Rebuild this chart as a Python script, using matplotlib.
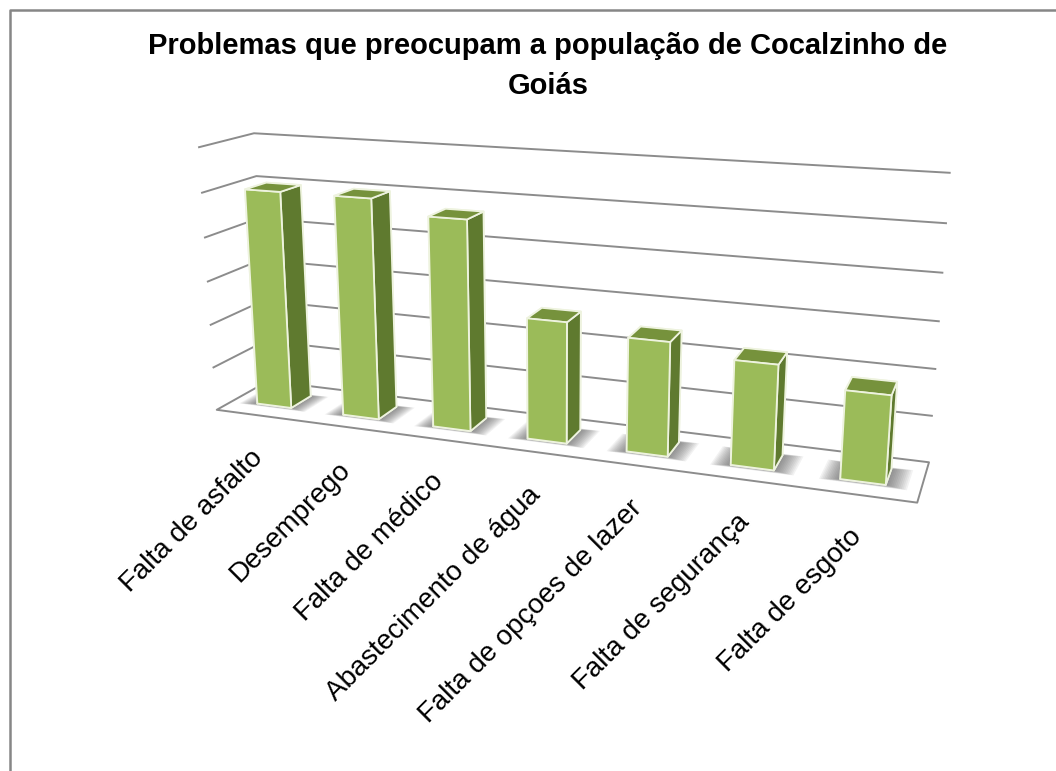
#!/usr/bin/env python3
import matplotlib
matplotlib.use('Agg')
import matplotlib.pyplot as plt
from matplotlib.lines import Line2D
from matplotlib.transforms import offset_copy
from mpl_toolkits.mplot3d import proj3d
from mpl_toolkits.mplot3d.art3d import Poly3DCollection

plt.rcParams['font.family'] = ['Liberation Sans', 'DejaVu Sans']

titulo = 'Problemas que preocupam a população de Cocalzinho de\nGoiás'
categorias = ['Falta de asfalto', 'Desemprego', 'Falta de médico', 'Abastecimento de água',
              'Falta de opçoes de lazer', 'Falta de segurança', 'Falta de esgoto']
valores = [25, 25, 23.5, 13.4, 12.4, 11.2, 9.3]
grade = [0, 5, 10, 15, 20, 25, 30]

W, H = 1056, 771
fig = plt.figure(figsize=(W / 100, H / 100), dpi=100, facecolor='white')

# borda do grafico: so esquerda e topo aparecem no recorte
fig.add_artist(Line2D([10 / W, 10 / W, 1], [0, 1 - 10 / H, 1 - 10 / H], color='#868686', lw=1.8))
fig.text(548 / W, 1 - 66 / H, titulo, ha='center', va='center', fontsize=21, fontweight='bold', linespacing=1.5)

# camera ajustada a mao para bater com a perspectiva do original
S = 900
ax = fig.add_axes([92 / W, 8.5 / H, S / W, S / H], projection='3d', proj_type='persp', focal_length=0.29)
ax.computed_zorder = False
ax.view_init(elev=15, azim=-70)
ax.set_box_aspect((7, 1, 2.7), zoom=0.86)
ax.set_xlim(-0.5, 6.5)
ax.set_ylim(0, 1)
ax.set_zlim(0, 30)
ax.set_axis_off()
ax.patch.set_alpha(0)

x0, x1 = -0.5, 6.5
piso = [[(x0, 0, 0), (x1, 0, 0), (x1, 1, 0), (x0, 1, 0)]]
ax.add_collection3d(Poly3DCollection(piso, facecolor='white', edgecolor='#8c8c8c', linewidth=1.4, zorder=0))

for g in grade[1:]:
    ax.plot([x0, x0, x1], [0, 1, 1], [g, g, g], color='#8c8c8c', lw=1.4, zorder=1)

# sombra no piso, varias camadas para parecer difusa
for i in range(len(valores)):
    for k in range(12):
        m = 0.2 * k / 11
        a, b = i - 0.22 - m * 0.8, i + 0.22 + m * 0.85
        c, d = 0.29 - m * 0.25, 0.7 + m * 0.2
        sombra = [[(a, c, 0), (b, c, 0), (b, d, 0), (a, d, 0)]]
        ax.add_collection3d(Poly3DCollection(sombra, facecolor=(0.3, 0.3, 0.3, 0.07), edgecolor='none', zorder=1.5))

# barras, uma cor por face: -z, +z, -y, +y, -x, +x
for i, v in enumerate(valores):
    cores = ['#9bbb59', '#76923c', '#9bbb59', '#9bbb59', '#5f7a2f', '#5f7a2f']
    ax.bar3d(i - 0.2, 0.3, 0, 0.4, 0.4, v, color=cores, shade=False, edgecolor='#eef3df', linewidth=1.3, zorder=3 + i)

# rotulos: Text3D ignora rotation, entao projeta a posicao e usa text2D
trans = offset_copy(ax.transData, fig=fig, x=0, y=-39, units='dots')
M = ax.get_proj()
for i, c in enumerate(categorias):
    px, py, _ = proj3d.proj_transform(i, 0, 0, M)
    ax.text2D(px, py, c, transform=trans, fontsize=20, rotation=45, ha='right', va='center', rotation_mode='anchor')

plt.savefig('out.png', dpi=100)
